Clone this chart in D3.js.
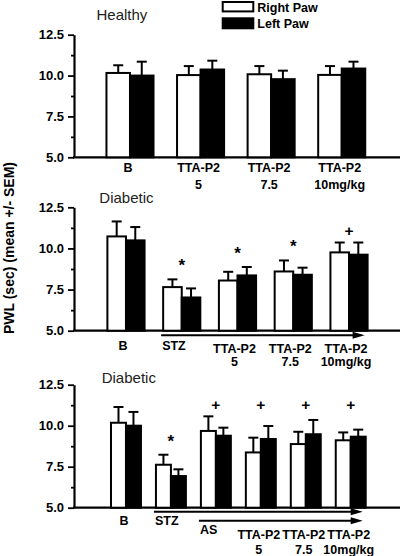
<!DOCTYPE html>
<html>
<head>
<meta charset="utf-8">
<script src="https://cdn.jsdelivr.net/npm/d3@7"></script>
<style>
  html, body { margin: 0; padding: 0; background: #fff; }
  svg { display: block; font-family: "Liberation Sans", Arial, sans-serif; }
</style>
</head>
<body>
<svg id="chart" width="400" height="556"></svg>
<script>
// ---------------- DATA ----------------
const yTicks = [5.0, 7.5, 10.0, 12.5];
const yMinorTicks = [6.25, 8.75, 11.25];
const legendLabels = ["Right Paw", "Left Paw"];
const yAxisTitle = "PWL (sec) (mean +/- SEM)";

// Panel 1 – Healthy
const healthyTitle = "Healthy";
const healthyCategories = [["B"], ["TTA-P2", "5"], ["TTA-P2", "7.5"], ["TTA-P2", "10mg/kg"]];
const healthyRight = [10.16, 10.03, 10.08, 10.04];
const healthyRightErr = [0.47, 0.55, 0.50, 0.54];
const healthyLeft = [10.00, 10.37, 9.78, 10.43];
const healthyLeftErr = [0.85, 0.54, 0.52, 0.42];
const healthyMarks = ["", "", "", ""];

// Panel 2 – Diabetic (STZ then TTA-P2)
const diabetic1Title = "Diabetic";
const diabetic1Categories = [["B"], ["STZ"], ["TTA-P2", "5"], ["TTA-P2", "7.5"], ["TTA-P2", "10mg/kg"]];
const diabetic1Right = [10.73, 7.65, 8.05, 8.60, 9.76];
const diabetic1RightErr = [0.91, 0.47, 0.53, 0.67, 0.60];
const diabetic1Left = [10.49, 7.02, 8.36, 8.40, 9.62];
const diabetic1LeftErr = [0.81, 0.55, 0.51, 0.43, 0.74];
const diabetic1Marks = ["", "*", "*", "*", "+"];
const diabetic1Arrows = ["STZ"];

// Panel 3 – Diabetic (STZ, AS then TTA-P2)
const diabetic2Title = "Diabetic";
const diabetic2Categories = [["B"], ["STZ"], ["AS"], ["TTA-P2", "5"], ["TTA-P2", "7.5"], ["TTA-P2", "10mg/kg"]];
const diabetic2Right = [10.18, 7.62, 9.68, 8.37, 8.88, 9.11];
const diabetic2RightErr = [0.96, 0.61, 0.89, 0.90, 0.75, 0.48];
const diabetic2Left = [10.00, 6.93, 9.39, 9.19, 9.48, 9.33];
const diabetic2LeftErr = [0.84, 0.41, 0.49, 0.79, 0.87, 0.43];
const diabetic2Marks = ["", "*", "+", "+", "+", "+"];
const diabetic2Arrows = ["STZ", "AS"];

// ---------------- LAYOUT ----------------
const svg = d3.select("#chart");
const AXIS_X = 74;
const FONT_BOLD = "bold";

function drawPanel(p) {
  const cats = p.categories.map(c => c.join(" "));
  const x = d3.scaleBand().domain(cats).range(p.xRange).paddingInner(1/3).paddingOuter(1/6);
  const y = d3.scaleLinear().domain([5, 12.5]).range(p.yRange);
  const bw = x.bandwidth() / 2;
  const g = svg.append("g");

  // title
  g.append("text").attr("x", p.titleX).attr("y", p.titleY)
    .attr("font-size", 15).attr("fill", "#222").text(p.title);

  // y axis
  const ya = g.append("g").attr("transform", `translate(${AXIS_X},0)`)
    .call(d3.axisLeft(y).tickValues(yTicks).tickFormat(d3.format(".1f"))
      .tickSize(6).tickSizeOuter(0).tickPadding(4));
  ya.select(".domain").attr("stroke-width", 2.2);
  ya.selectAll(".tick line").attr("stroke-width", 1.8);
  ya.selectAll(".tick text").attr("font-size", 13).attr("font-weight", FONT_BOLD)
    .attr("font-family", "Liberation Sans, Arial, sans-serif").attr("fill", "#000");
  const ym = g.append("g").attr("transform", `translate(${AXIS_X},0)`)
    .call(d3.axisLeft(y).tickValues(yMinorTicks).tickFormat("").tickSize(3).tickSizeOuter(0));
  ym.select(".domain").remove();
  ym.selectAll(".tick line").attr("stroke-width", 1.8);

  // x axis line
  g.append("line").attr("x1", AXIS_X - 1).attr("x2", 400)
    .attr("y1", y(5)).attr("y2", y(5)).attr("stroke", "#000").attr("stroke-width", 2.2);

  const rows = cats.map((c, i) => ({
    c, i, r: p.right[i], re: p.rightErr[i], l: p.left[i], le: p.leftErr[i], m: p.marks[i]
  }));

  // bars
  const bars = g.append("g");
  rows.forEach(d => {
    const x0 = x(d.c);
    [[d.r, d.re, "#fff", x0], [d.l, d.le, "#000", x0 + bw]].forEach(([v, e, fill, xs]) => {
      const cx = xs + bw / 2;
      bars.append("line").attr("x1", cx).attr("x2", cx).attr("y1", y(v)).attr("y2", y(v + e))
        .attr("stroke", "#000").attr("stroke-width", 2);
      bars.append("line").attr("x1", cx - 5).attr("x2", cx + 5).attr("y1", y(v + e)).attr("y2", y(v + e))
        .attr("stroke", "#000").attr("stroke-width", 2);
      bars.append("rect").attr("x", xs).attr("y", y(v)).attr("width", bw).attr("height", y(5) - y(v))
        .attr("fill", fill).attr("stroke", "#000").attr("stroke-width", 2);
    });
  });

  // significance marks
  const plusRows = rows.filter(d => d.m === "+");
  const plusTop = d3.max(plusRows, d => Math.max(d.r + d.re, d.l + d.le));
  rows.filter(d => d.m).forEach(d => {
    const cx = x(d.c) + x.bandwidth() / 2;
    let yy, fs;
    if (d.m === "*") { yy = y(Math.max(d.r + d.re, d.l + d.le)) - 8; fs = 17; }
    else { yy = y(plusTop) - p.plusGap; fs = 15.5; }
    g.append("text").attr("x", cx).attr("y", yy).attr("text-anchor", "middle")
      .attr("font-size", fs).attr("font-weight", FONT_BOLD).text(d.m);
  });

  // arrows
  const lastCat = cats[cats.length - 1];
  const xEnd = x(lastCat) + x.bandwidth() - 3;
  const arrowStart = {};
  (p.arrows || []).forEach((a, k) => {
    const xs = x(a) - 2;
    arrowStart[a] = xs;
    const ay = y(5) + p.arrowOffsets[k];
    g.append("line").attr("x1", xs).attr("x2", xEnd - 10).attr("y1", ay).attr("y2", ay)
      .attr("stroke", "#000").attr("stroke-width", 2);
    g.append("path").attr("d", `M${xEnd - 12},${ay - 3.5}L${xEnd},${ay}L${xEnd - 12},${ay + 3.5}Z`)
      .attr("fill", "#000");
  });

  // category labels
  rows.forEach(d => {
    const lines = p.categories[d.i];
    const cx = x(d.c) + x.bandwidth() / 2;
    const base = y(5) + p.labelY(lines[0]);
    const isArrow = arrowStart[d.c] !== undefined;
    lines.forEach((t, j) => {
      g.append("text")
        .attr("x", isArrow ? arrowStart[d.c] + 1 : cx + p.labelDx)
        .attr("y", j === 0 ? base : y(5) + p.row2)
        .attr("text-anchor", isArrow ? "start" : "middle")
        .attr("font-size", 12.5).attr("font-weight", FONT_BOLD).text(t);
    });
  });
}

drawPanel({
  title: healthyTitle, titleX: 96.5, titleY: 20,
  categories: healthyCategories, right: healthyRight, rightErr: healthyRightErr,
  left: healthyLeft, leftErr: healthyLeftErr, marks: healthyMarks,
  xRange: [94.7, 377], yRange: [157.3, 34.7],
  labelY: () => 15, row2: 32, labelDx: -2, plusGap: 7
});

drawPanel({
  title: diabetic1Title, titleX: 99.3, titleY: 203.3,
  categories: diabetic1Categories, right: diabetic1Right, rightErr: diabetic1RightErr,
  left: diabetic1Left, leftErr: diabetic1LeftErr, marks: diabetic1Marks,
  arrows: diabetic1Arrows, arrowOffsets: [4.5],
  xRange: [98.1, 376.9], yRange: [330.7, 207.3],
  labelY: t => (t === "TTA-P2" ? 22.5 : 19), row2: 35.5, labelDx: -3, plusGap: 7
});

drawPanel({
  title: diabetic2Title, titleX: 101.7, titleY: 382.7,
  categories: diabetic2Categories, right: diabetic2Right, rightErr: diabetic2RightErr,
  left: diabetic2Left, leftErr: diabetic2LeftErr, marks: diabetic2Marks,
  arrows: diabetic2Arrows, arrowOffsets: [4, 13],
  xRange: [103.5, 373.2], yRange: [507.7, 384.7],
  labelY: t => (t === "TTA-P2" ? 31 : t === "AS" ? 26 : 17.5), row2: 46, labelDx: -2, plusGap: 6
});

// legend
const legend = svg.append("g");
legend.append("rect").attr("x", 222.7).attr("y", 2).attr("width", 30.6).attr("height", 9.4)
  .attr("fill", "#fff").attr("stroke", "#000").attr("stroke-width", 2);
legend.append("rect").attr("x", 221.7).attr("y", 17.3).attr("width", 32.6).attr("height", 12)
  .attr("fill", "#000");
legendLabels.forEach((t, i) => {
  legend.append("text").attr("x", 257.3).attr("y", i === 0 ? 11.5 : 27.5)
    .attr("font-size", 12.5).attr("font-weight", FONT_BOLD).text(t);
});

// y axis title
svg.append("text").attr("transform", "translate(13.5,248) rotate(-90)")
  .attr("text-anchor", "middle").attr("font-size", 14).attr("font-weight", FONT_BOLD)
  .text(yAxisTitle);
</script>
</body>
</html>
